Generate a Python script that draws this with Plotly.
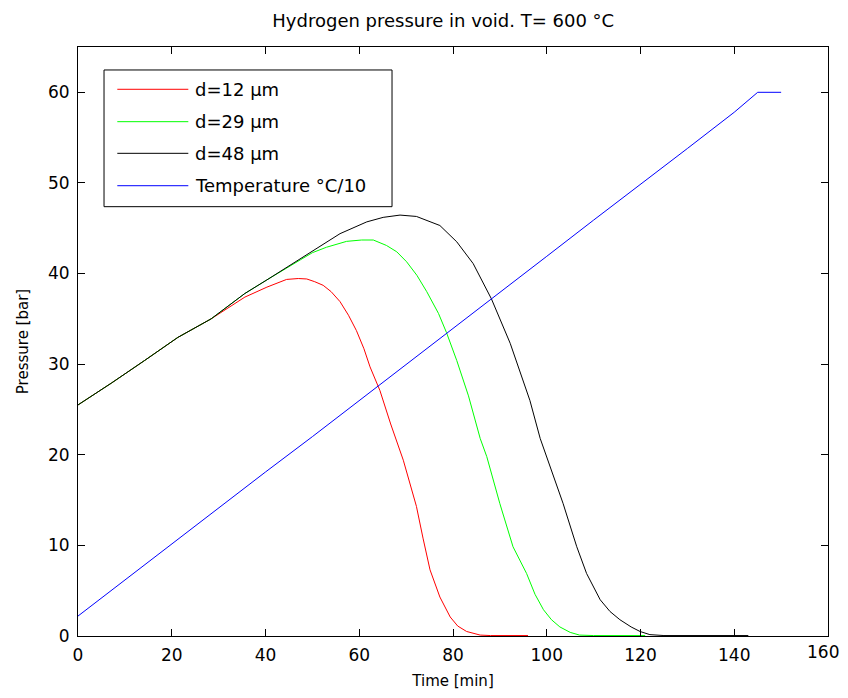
import plotly.graph_objects as go

# values (time in min, pressure in bar)
t_12 = [0, 7.1, 14.2, 21.3, 28.4, 31.3, 35.6, 40.3, 42.7, 44.5, 47, 48.8, 50.5, 52.3,
        54, 55.9, 57.7, 59.4, 61, 62.3, 64.4, 66.7, 69.4, 72.2, 73.6, 75.1, 77.2,
        79.4, 81, 82.9, 85.8, 88, 96]
p_12 = [25.5, 27.9, 30.4, 32.95, 35.0, 36.0, 37.4, 38.5, 39.0, 39.35, 39.45, 39.4,
        39.1, 38.7, 38.0, 36.9, 35.4, 33.7, 31.7, 29.7, 27.1, 23.4, 19.4, 14.3, 10.8,
        7.3, 4.3, 2.1, 1.1, 0.5, 0.1, 0.05, 0.05]

t_29 = [0, 7.1, 14.2, 21.3, 28.4, 35.6, 40.3, 45.9, 47.4, 50, 53, 57.3, 60.5, 63,
        65.8, 68, 70.1, 72.3, 74.4, 76.9, 78.6, 80.8, 83.3, 85.8, 87.2, 90, 92.8,
        95.7, 97.5, 99.3, 101, 102.8, 105, 107, 110, 121]
p_29 = [25.5, 27.9, 30.4, 32.95, 35.0, 37.8, 39.3, 41.1, 41.5, 42.3, 42.9, 43.55,
        43.7, 43.7, 43.1, 42.4, 41.3, 39.8, 38.0, 35.6, 33.5, 30.4, 26.5, 21.8, 19.8,
        14.6, 9.85, 6.9, 4.6, 2.9, 1.8, 1.0, 0.4, 0.1, 0.05, 0.05]

t_48 = [0, 7.1, 14.2, 21.3, 28.4, 35.6, 40.3, 45.9, 50.9, 55.9, 61.6, 65.1, 68.7,
        72.2, 77.2, 80.8, 84.3, 88.2, 92.2, 96.4, 98.6, 100, 103.5, 106.4, 108.5,
        111.4, 113.5, 115.6, 118, 119.9, 122, 125, 143]
p_48 = [25.5, 27.9, 30.4, 32.95, 35.0, 37.8, 39.3, 41.1, 42.8, 44.4, 45.7, 46.2,
        46.45, 46.3, 45.3, 43.5, 41.1, 37.2, 32.3, 26.0, 21.8, 19.8, 14.6, 9.85, 6.9,
        4.0, 2.7, 1.8, 1.0, 0.5, 0.15, 0.05, 0.05]

t_temp = [0, 10, 20, 30, 40, 50, 60, 70, 80, 90, 100, 110, 120, 130, 140, 145, 150]
p_temp = [2.2, 6.2, 10.1, 14.1, 18.1, 22.0, 26.0, 30.0, 33.9, 37.9, 41.9, 45.9, 49.8,
          53.8, 57.8, 60.0, 60.0]

x_ticks = [0, 20, 40, 60, 80, 100, 120, 140, 160]
x_ticktext = ['0', '20', '40', '60', '80', '100', '120', '140', '160']
y_ticks = [0, 10, 20, 30, 40, 50, 60]

names = ['d=12 μm', 'd=29 μm', 'd=48 μm', 'Temperature °C/10']
colors = ['#ff0000', '#00ff00', '#000000', '#0000ff']
series = [(t_12, p_12), (t_29, p_29), (t_48, p_48), (t_temp, p_temp)]

fig = go.Figure()
for (tx, py), name, col in zip(series, names, colors):
    fig.add_trace(go.Scatter(x=tx, y=py, mode='lines', name=name, showlegend=False,
                             line=dict(color=col, width=1)))

# legend box drawn by hand (matlab style, long line samples)
fig.add_shape(type='rect', xref='paper', yref='paper', x0=0.0347, x1=0.4187,
              y0=0.7289, y1=0.961, line=dict(color='black', width=1),
              fillcolor='white', layer='above')
row_y = [0.9282, 0.8732, 0.8195, 0.7645]
for yy, name, col in zip(row_y, names, colors):
    fig.add_shape(type='line', xref='paper', yref='paper', x0=0.0524, x1=0.1471,
                  y0=yy, y1=yy, line=dict(color=col, width=1), layer='above')
    fig.add_annotation(xref='paper', yref='paper', x=0.1533, y=yy, text=name,
                       showarrow=False, xanchor='left', yanchor='middle',
                       font=dict(size=18))

# plotly drops the last x label because it pokes past the page edge,
# so it is written as an annotation nudged a few px to the left
fig.add_annotation(xref='x', yref='paper', x=x_ticks[-1], y=0, text=x_ticktext[-1],
                   showarrow=False, xanchor='center', yanchor='top', xshift=-5,
                   yshift=-4, font=dict(size=17, color='black'))

axis_common = dict(showgrid=False, zeroline=False, showline=True, linecolor='black',
                   linewidth=1, mirror='ticks', ticks='inside', ticklen=7,
                   tickcolor='black', tickfont=dict(size=17, color='black'),
                   ticklabelstandoff=4, automargin=False)

# page body has an 8px margin, so the figure is kept a bit smaller than the window
fig.update_layout(
    width=832, height=682,
    margin=dict(l=70, r=12, t=39, b=54),
    paper_bgcolor='white', plot_bgcolor='white',
    font=dict(family='DejaVu Sans, Arial, sans-serif', color='black', size=15),
    title=dict(text='Hydrogen pressure in void. T= 600 °C', x=0.487, xref='paper',
               xanchor='center', y=0.982, yref='container', yanchor='middle',
               font=dict(size=18)),
    xaxis=dict(range=[0, 160], tickvals=x_ticks[:-1], ticktext=x_ticktext[:-1],
               title=dict(text='Time [min]', standoff=14, font=dict(size=15)),
               **axis_common),
    yaxis=dict(range=[0, 65], tickvals=y_ticks,
               title=dict(text='Pressure [bar]', standoff=15, font=dict(size=15)),
               **axis_common),
)
# keep the tick mark at 160 on the axis even without its plotly label
fig.update_xaxes(tickvals=x_ticks, ticktext=x_ticktext[:-1] + [''])

fig.write_html("out.html")
